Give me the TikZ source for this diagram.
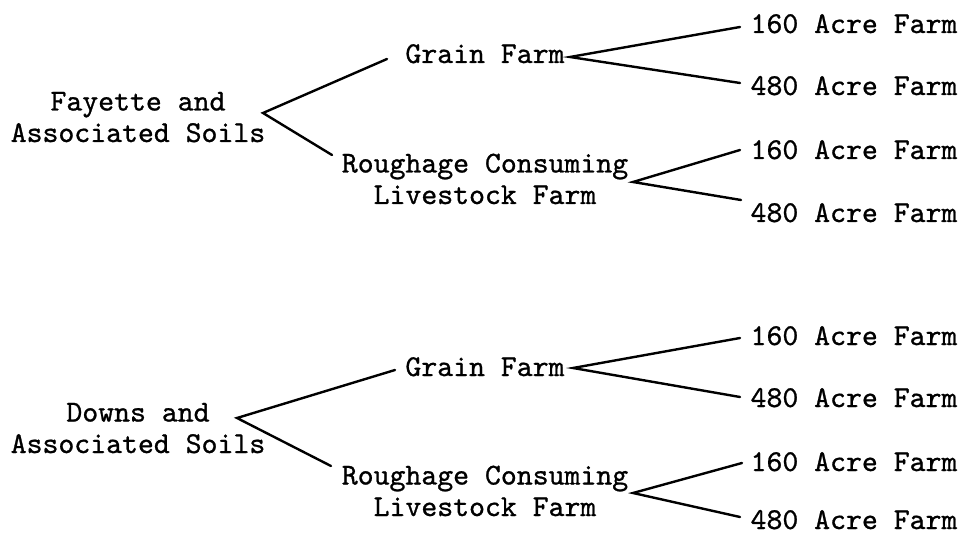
\documentclass[tikz,border=0pt]{standalone}
\usepackage{fontspec}
\setmonofont{lmmono10-regular.otf}[FakeBold=0.9]
\begin{document}
\begin{tikzpicture}[x=1pt,y=-1pt,
  lbl/.style={font=\ttfamily\fontsize{30.3}{31.5}\selectfont, inner sep=0pt, anchor=base, align=center},
  link/.style={line width=2.4pt, line cap=round, line join=miter}]
\useasboundingbox (0,0) rectangle (960,534);
% ---- upper tree ----
\node[lbl] (soilA)  at (138,142) {Fayette and\\Associated Soils};
\node[lbl] (grainA) at (485,63)  {Grain Farm};
\node[lbl] (roughA) at (485,204) {Roughage Consuming\\Livestock Farm};
\node[lbl] (gA160)  at (854,33)  {160 Acre Farm};
\node[lbl] (gA480)  at (854,95)  {480 Acre Farm};
\node[lbl] (rA160)  at (854,159) {160 Acre Farm};
\node[lbl] (rA480)  at (854,222) {480 Acre Farm};
\coordinate (sAv) at (263,113);
\coordinate (sAu) at (387,59);
\coordinate (sAd) at (332,155);
\coordinate (gAv) at (570,57);
\coordinate (gAu) at (740,27);
\coordinate (gAd) at (740,83);
\coordinate (rAv) at (633,182);
\coordinate (rAu) at (740,150);
\coordinate (rAd) at (741,200);
\draw[link] (sAu) -- (sAv) -- (sAd);
\draw[link] (gAu) -- (gAv) -- (gAd);
\draw[link] (rAu) -- (rAv) -- (rAd);
% ---- lower tree ----
\node[lbl] (soilB)  at (138,453) {Downs and\\Associated Soils};
\node[lbl] (grainB) at (485,376) {Grain Farm};
\node[lbl] (roughB) at (485,516) {Roughage Consuming\\Livestock Farm};
\node[lbl] (gB160)  at (854,345) {160 Acre Farm};
\node[lbl] (gB480)  at (854,407) {480 Acre Farm};
\node[lbl] (rB160)  at (854,471) {160 Acre Farm};
\node[lbl] (rB480)  at (854,529) {480 Acre Farm};
\coordinate (sBv) at (237,418);
\coordinate (sBu) at (395,370);
\coordinate (sBd) at (331,466);
\coordinate (gBv) at (573,368);
\coordinate (gBu) at (740,338);
\coordinate (gBd) at (740,397);
\coordinate (rBv) at (633,493);
\coordinate (rBu) at (742,463);
\coordinate (rBd) at (740,517);
\draw[link] (sBu) -- (sBv) -- (sBd);
\draw[link] (gBu) -- (gBv) -- (gBd);
\draw[link] (rBu) -- (rBv) -- (rBd);
\end{tikzpicture}
\end{document}
